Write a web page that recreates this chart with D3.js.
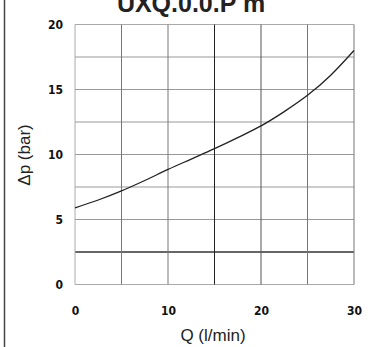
<!DOCTYPE html>
<head>
    <script src="https://d3js.org/d3.v7.min.js"></script>
    <style>
        body { margin: 0; background: #fff; }
        .tick text { font-family: "Liberation Sans Narrow", "DejaVu Sans Condensed", sans-serif; font-weight: bold; font-size: 12px; fill: #111; }
    </style>
</head>
<body>
    <svg width="369" height="347"></svg>
    <script>
        var flow = [0, 2.5, 5, 7.5, 10, 12.5, 15, 17.5, 20, 22.5, 25, 27.5, 30];
        var dp = [5.9, 6.5, 7.2, 8.0, 8.85, 9.65, 10.45, 11.3, 12.2, 13.3, 14.55, 16.1, 18.0];
        var xTicks = [0, 10, 20, 30];
        var yTicks = [0, 5, 10, 15, 20];
        var xGrid = [0, 5, 10, 15, 20, 25, 30];
        var yGrid = [0, 2.5, 5, 7.5, 10, 12.5, 15, 17.5, 20];

        var svg = d3.select("svg");

        var x = d3.scaleLinear().domain([0, 30]).range([75, 354]);
        var y = d3.scaleLinear().domain([0, 20]).range([284.5, 24.5]);

        // page frame line on the left
        svg.append("line")
            .attr("x1", 4.5).attr("x2", 4.5)
            .attr("y1", 0).attr("y2", 347)
            .attr("stroke", "#444").attr("stroke-width", 1.5);

        // title, cut off at the top
        svg.append("text")
            .attr("x", 191).attr("y", 12)
            .attr("text-anchor", "middle")
            .attr("font-family", "Liberation Sans, Arial, sans-serif")
            .attr("font-weight", "bold")
            .attr("font-size", "25px")
            .attr("fill", "#222")
            .text("UXQ.0.0.P m");

        // grid
        svg.append("g").selectAll("line")
            .data(yGrid)
            .enter().append("line")
            .attr("x1", x(0)).attr("x2", x(30))
            .attr("y1", function(d) { return y(d); })
            .attr("y2", function(d) { return y(d); })
            .attr("stroke", function(d) { return d == 2.5 ? "#666" : (d == 0 || d == 20 ? "#aaa" : "#999"); })
            .attr("stroke-width", function(d) { return d == 2.5 ? 2 : 1; });

        svg.append("g").selectAll("line")
            .data(xGrid)
            .enter().append("line")
            .attr("y1", y(0)).attr("y2", y(20))
            .attr("x1", function(d) { return x(d); })
            .attr("x2", function(d) { return x(d); })
            .attr("stroke", function(d) {
                if (d == 15) return "#222";
                if (d == 20) return "#555";
                if (d == 0) return "#aaa";
                return "#777";
            })
            .attr("stroke-width", 1);

        // curve
        var line = d3.line()
            .x(function(d, i) { return x(flow[i]); })
            .y(function(d) { return y(d); })
            .curve(d3.curveMonotoneX);

        svg.append("path")
            .datum(dp)
            .attr("fill", "none")
            .attr("stroke", "#222")
            .attr("stroke-width", 1.3)
            .attr("d", line);

        // axes
        svg.append("g")
            .attr("transform", "translate(0,301)")
            .call(d3.axisBottom(x).tickValues(xTicks).tickSize(0).tickPadding(5))
            .select(".domain").remove();

        svg.append("g")
            .attr("transform", "translate(65,0)")
            .call(d3.axisLeft(y).tickValues(yTicks).tickSize(0).tickPadding(2))
            .select(".domain").remove();

        svg.append("text")
            .attr("x", 213).attr("y", 341)
            .attr("text-anchor", "middle")
            .attr("font-family", "Liberation Sans, Arial, sans-serif")
            .attr("font-size", "17px")
            .attr("fill", "#222")
            .text("Q (l/min)");

        svg.append("text")
            .attr("transform", "translate(30,155) rotate(-90)")
            .attr("text-anchor", "middle")
            .attr("font-family", "Liberation Sans, Arial, sans-serif")
            .attr("font-size", "17px")
            .attr("fill", "#222")
            .text("Δp (bar)");
    </script>
</body>
